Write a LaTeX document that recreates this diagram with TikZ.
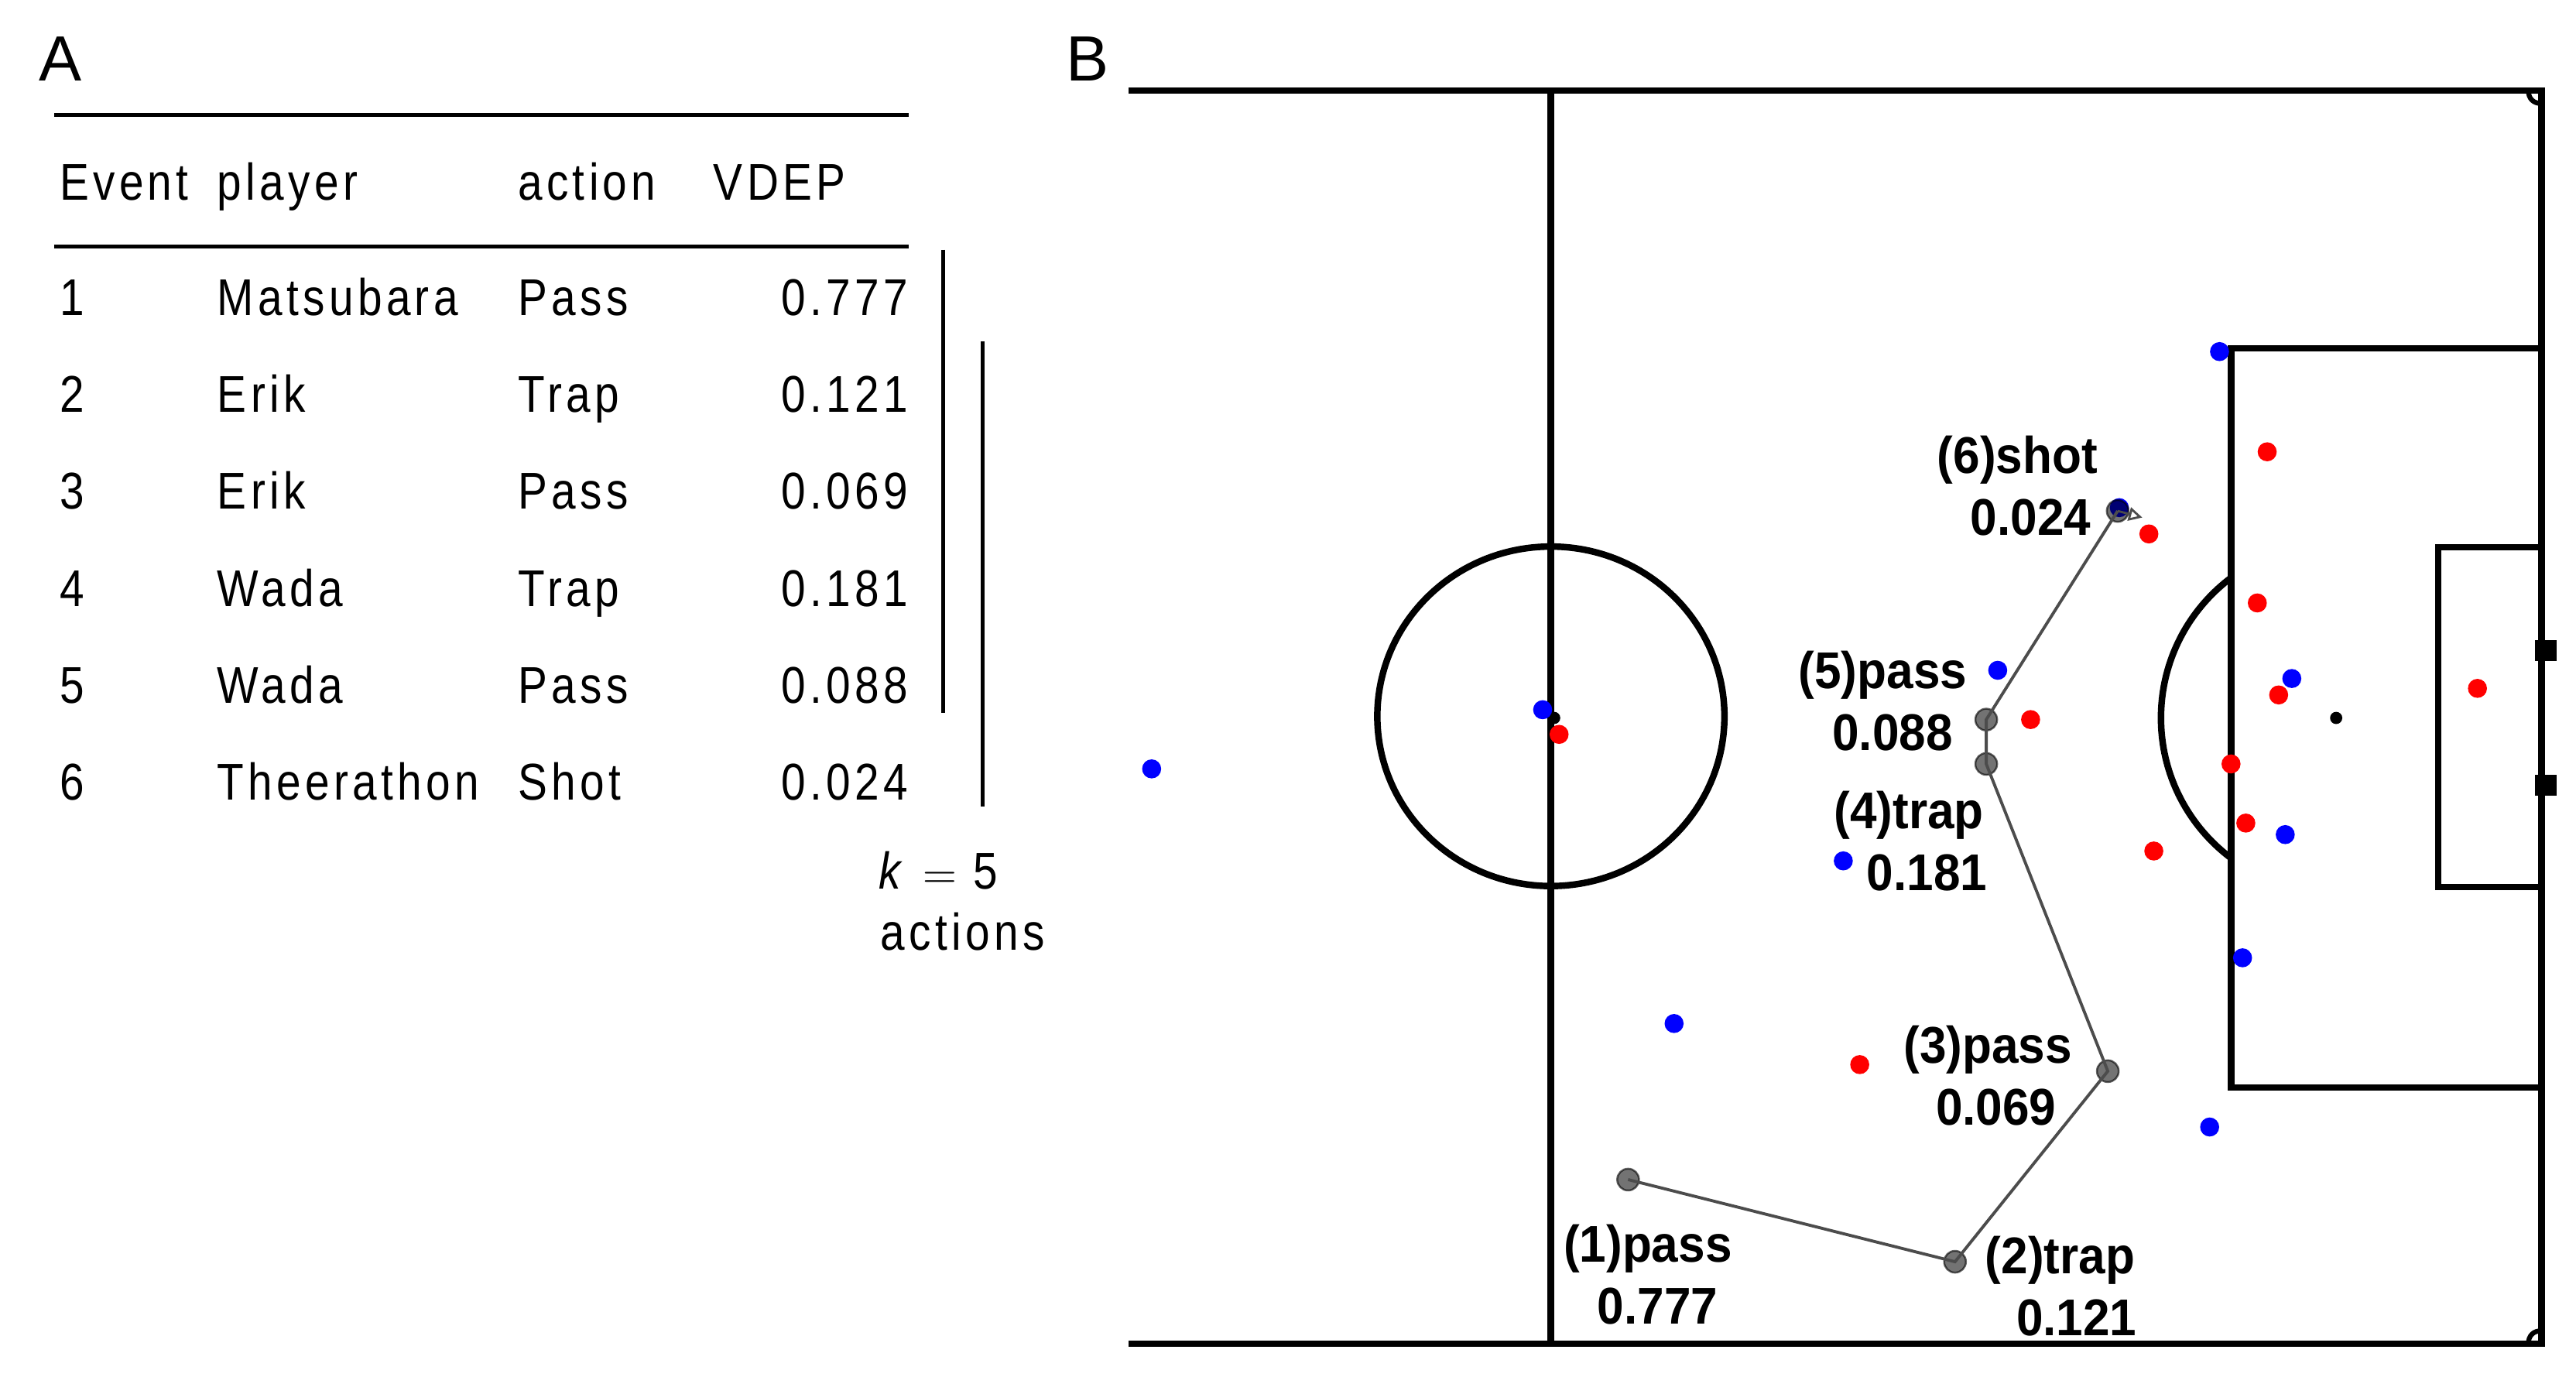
\documentclass[tikz,border=0pt]{standalone}
\usepackage{fontspec}
\setmainfont{Liberation Sans}
\newfontfamily\tabfont[FakeStretch=0.85, LetterSpace=8]{Liberation Sans}
\newfontfamily\lblfont[FakeStretch=0.93]{Liberation Sans}
\usetikzlibrary{arrows.meta}
\definecolor{pblue}{RGB}{0,0,255}
\definecolor{pred}{RGB}{255,0,0}
\begin{document}
\begin{tikzpicture}[x=0.021224cm, y=-0.021224cm,
  tabtxt/.style={inner sep=0pt, font=\tabfont\fontsize{19}{22}\selectfont},
  panel/.style={inner sep=0pt, font=\fontsize{23.5}{26}\selectfont},
  lbl/.style={inner sep=0pt, font=\lblfont\bfseries\fontsize{19}{22}\selectfont},
  rule/.style={line width=1.3pt, black},
  pline/.style={line width=2.4pt, black},
  bluep/.style={circle, fill=pblue, inner sep=0pt, minimum size=7pt},
  redp/.style={circle, fill=pred, inner sep=0pt, minimum size=7pt},
  blackp/.style={circle, fill=black, inner sep=0pt, minimum size=4.5pt},
  act/.style={circle, fill=black, fill opacity=0.55, draw=black, draw opacity=0.6, line width=0.7pt, inner sep=0pt, minimum size=8pt},
  actpath/.style={draw=black!70, line width=1.1pt}]
\fill[white] (0,0) rectangle (1568,838);
\useasboundingbox (0,0) rectangle (1568,838);

% ---------- Panel A: table ----------
\node[panel] (labA) at (37,36) {A};
\draw[rule] (33,70) -- (553,70);
\draw[rule] (33,150) -- (553,150);
\node[tabtxt, anchor=base west] (hEvent) at (36,122) {Event};
\node[tabtxt, anchor=base west] (hPlayer) at (132,122) {player};
\node[tabtxt, anchor=base west] (hAction) at (315,122) {action};
\node[tabtxt, anchor=base west] (hVdep) at (434,122) {VDEP};

\foreach \i/\pl/\ac/\v/\y in {1/Matsubara/Pass/0.777/192, 2/Erik/Trap/0.121/251, 3/Erik/Pass/0.069/310, 4/Wada/Trap/0.181/369, 5/Wada/Pass/0.088/428, 6/Theerathon/Shot/0.024/487}{
  \node[tabtxt, anchor=base west] (ev\i) at (36,\y) {\i};
  \node[tabtxt, anchor=base west] (pl\i) at (132,\y) {\pl};
  \node[tabtxt, anchor=base west] (ac\i) at (315,\y) {\ac};
  \node[tabtxt, anchor=base east] (va\i) at (553,\y) {\v};
}
\draw[rule] (574,152) -- (574,434);
\draw[rule] (598,208) -- (598,491);
\node[tabtxt] (kval) at (571,530) {\textit{k} $=$ 5};
\node[tabtxt] (kact) at (586,567) {actions};

% ---------- Panel B: pitch ----------
\node[panel] (labB) at (662,36) {B};
\draw[pline] (687,55) -- (1547,55) -- (1547,818) -- (687,818);
\draw[pline] (944,55) -- (944,818);
\draw[pline] (944,436) ellipse [x radius=63.8pt, y radius=62.4pt];
\draw[pline] (1547,212) -- (1358,212) -- (1358,662) -- (1547,662);
\draw[pline] (1547,333) -- (1484,333) -- (1484,540) -- (1547,540);
\begin{scope}
  \clip (1250,300) rectangle (1358,600);
  \draw[pline] (1422,437) circle [radius=64.4pt];
\end{scope}
\draw[line width=1.8pt] (1539,55) .. controls (1539,60) and (1542,63) .. (1547,63);
\draw[line width=1.8pt] (1539,818) .. controls (1539,813) and (1542,810) .. (1547,810);
\fill[black] (1543,389.5) rectangle (1556,402.5);
\fill[black] (1543,471.5) rectangle (1556,484.5);
\node[blackp] (cspot) at (946,437) {};
\node[blackp] (pspot) at (1422,437) {};

% players
\foreach \n/\x/\y in {b1/701/468, b2/939/432, b3/1351/214, b4/1216/408, b5/1395/413, b6/1122/524, b7/1391/508, b8/1365/583, b9/1019/623, b10/1345/686, b11/1290/309}{
  \node[bluep] (\n) at (\x,\y) {};
}
\foreach \n/\x/\y in {r1/949/447, r2/1380/275, r3/1308/325, r4/1374/367, r5/1387/423, r6/1236/438, r7/1358/465, r8/1367/501, r9/1311/518, r10/1132/648, r11/1508/419}{
  \node[redp] (\n) at (\x,\y) {};
}

% actions
\node[act] (a1) at (991,718) {};
\node[act] (a2) at (1190,768) {};
\node[act] (a3) at (1283,652) {};
\node[act] (a4) at (1209,465) {};
\node[act] (a5) at (1209,438) {};
\node[act] (a6) at (1289,311) {};
\coordinate (shotend) at (1304,315);
\draw[actpath] (a1.center) -- (a2.center) -- (a3.center) -- (a4.center) -- (a5.center) -- (a6.center);
\draw[draw=black!70, line width=0.8pt, -{Triangle[open, length=5pt, width=5pt]}] (a6.center) -- (shotend);

% labels
\node[lbl] (l1a) at (1003,760) {(1)pass};
\node[lbl] (l1b) at (1009,795) {0.777};
\node[lbl] (l2a) at (1254,767) {(2)trap};
\node[lbl] (l2b) at (1264,802) {0.121};
\node[lbl] (l3a) at (1210,639) {(3)pass};
\node[lbl] (l3b) at (1215,674) {0.069};
\node[lbl] (l4a) at (1162,496) {(4)trap};
\node[lbl] (l4b) at (1173,531) {0.181};
\node[lbl] (l5a) at (1146,411) {(5)pass};
\node[lbl] (l5b) at (1152,446) {0.088};
\node[lbl] (l6a) at (1228,280) {(6)shot};
\node[lbl] (l6b) at (1236,315) {0.024};
\end{tikzpicture}
\end{document}
